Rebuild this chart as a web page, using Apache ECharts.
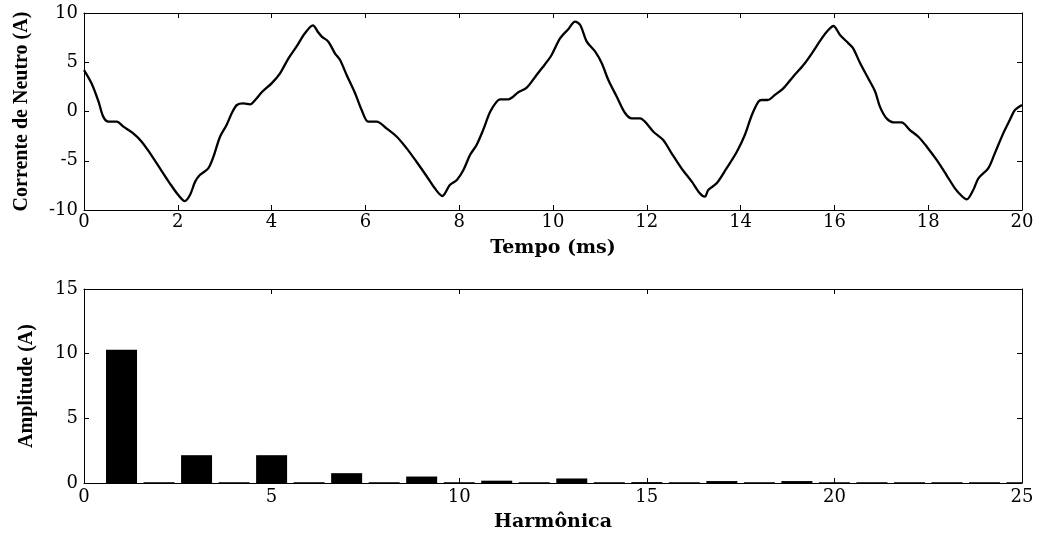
<!DOCTYPE html>
<html>
<head>
<meta charset="utf-8">
<script src="https://cdn.jsdelivr.net/npm/echarts@6/dist/echarts.min.js"></script>
<style>
html,body{margin:0;padding:0;background:#fff;}
#chart{width:1039px;height:533px;}
</style>
</head>
<body>
<div id="chart"></div>
<script>
// Top plot: neutral current waveform
const timeMs = [0.00,0.16,0.31,0.41,0.52,0.70,0.84,1.05,1.23,1.41,1.62,1.83,2.01,2.15,2.26,2.37,2.47,2.65,2.76,2.90,3.04,3.15,3.26,3.40,3.54,3.65,3.79,4.00,4.18,4.36,4.53,4.71,4.88,5.00,5.07,5.21,5.35,5.46,5.60,5.78,5.92,6.06,6.24,6.45,6.67,6.88,7.09,7.31,7.48,7.64,7.80,7.95,8.09,8.23,8.37,8.51,8.66,8.80,8.87,9.05,9.26,9.44,9.65,9.83,9.97,10.15,10.33,10.47,10.58,10.72,10.90,11.04,11.18,11.36,11.54,11.68,11.86,11.96,12.14,12.35,12.53,12.74,12.96,13.13,13.24,13.31,13.49,13.70,13.92,14.09,14.24,14.38,14.45,14.58,14.73,14.91,15.12,15.34,15.52,15.73,15.87,15.98,16.12,16.30,16.40,16.55,16.72,16.87,16.97,17.11,17.26,17.43,17.61,17.79,17.97,18.18,18.39,18.57,18.71,18.82,18.96,19.07,19.28,19.42,19.60,19.74,19.85,20.00];
const currentA = [4.2,2.86,1.0,-0.52,-1.03,-1.03,-1.54,-2.22,-3.06,-4.25,-5.77,-7.29,-8.48,-9.09,-8.48,-7.12,-6.45,-5.77,-4.59,-2.56,-1.37,-0.18,0.66,0.83,0.73,1.17,1.95,2.86,3.88,5.4,6.58,7.94,8.75,8.0,7.6,7.09,5.91,5.23,3.71,1.85,0.15,-1.03,-1.03,-1.71,-2.56,-3.74,-5.1,-6.6,-7.8,-8.58,-7.46,-6.95,-5.94,-4.42,-3.4,-1.88,-0.02,1.0,1.24,1.24,1.95,2.42,3.71,4.8,5.74,7.43,8.38,9.12,8.78,7.09,6.07,4.89,3.2,1.5,-0.18,-0.69,-0.69,-1.03,-2.05,-2.89,-4.25,-5.77,-7.12,-8.3,-8.65,-7.97,-7.29,-5.77,-4.08,-2.39,-0.36,1.0,1.17,1.17,1.68,2.35,3.54,4.72,5.91,7.43,8.27,8.68,7.77,6.92,6.41,4.89,3.37,2.01,0.49,-0.69,-1.1,-1.1,-1.88,-2.56,-3.57,-4.92,-6.45,-7.8,-8.55,-8.92,-7.97,-6.78,-5.77,-4.25,-2.22,-0.86,0.15,0.66];

// Bottom plot: harmonic spectrum
const harmonics = [1,2,3,4,5,6,7,8,9,10,11,12,13,14,15,16,17,18,19,20,21,22,23,24,25];
const amplitudeA = [10.3,0.06,2.15,0.06,2.15,0.06,0.76,0.06,0.5,0.06,0.18,0.06,0.35,0.06,0.07,0.06,0.15,0.06,0.15,0.06,0.06,0.06,0.06,0.06,0.06];

// Axis titles
const topXName = 'Tempo (ms)';
const topYName = 'Corrente de Neutro (A)';
const botXName = 'Harmônica';
const botYName = 'Amplitude (A)';

const chart = echarts.init(document.getElementById('chart'), null, {renderer:'canvas'});

const black = '#000';
const barHalfWidth = 0.413; // in harmonic units (MATLAB-like bar width)
const tickFont = {fontFamily:'DejaVu Serif', fontSize:18, color:black};
const xNameFont = {fontFamily:'DejaVu Serif', fontSize:19, fontWeight:'bold', color:black};
const yNameFont = {fontFamily:'Liberation Serif', fontSize:20, fontWeight:'bold', color:black};

function mainAxis(extra){
  return Object.assign({
    type:'value',
    axisLine:{show:true, onZero:false, lineStyle:{color:black, width:1}},
    axisTick:{show:true, inside:true, length:5, lineStyle:{color:black, width:1}},
    splitLine:{show:false},
    axisLabel:Object.assign({show:true}, tickFont)
  }, extra);
}
function mirrorAxis(extra){
  return Object.assign({
    type:'value',
    axisLine:{show:true, onZero:false, lineStyle:{color:black, width:1}},
    axisTick:{show:true, inside:true, length:5, lineStyle:{color:black, width:1}},
    splitLine:{show:false},
    axisLabel:{show:false}
  }, extra);
}

function renderBar(params, api){
  const h = api.value(0), a = api.value(1);
  const p0 = api.coord([h - barHalfWidth, 0]);
  const p1 = api.coord([h + barHalfWidth, a]);
  const cs = params.coordSys;
  const rect = echarts.graphic.clipRectByRect(
    {x:p0[0], y:p1[1], width:p1[0]-p0[0], height:p0[1]-p1[1]},
    {x:cs.x, y:cs.y, width:cs.width, height:cs.height}
  );
  if(!rect) return null;
  return {type:'rect', shape:rect, style:{fill:black}};
}

const option = {
  animation:false,
  backgroundColor:'#fff',
  grid:[
    {left:84, right:17, top:13, height:197},
    {left:84, right:17, top:289, height:197}
  ],
  xAxis:[
    mainAxis({gridIndex:0, position:'bottom', min:0, max:20, interval:2,
      axisLabel:Object.assign({margin:3}, tickFont),
      name:topXName, nameLocation:'middle', nameGap:29, nameTextStyle:xNameFont}),
    mirrorAxis({gridIndex:0, position:'top', min:0, max:20, interval:2}),
    mainAxis({gridIndex:1, position:'bottom', min:0, max:25, interval:5,
      axisLabel:Object.assign({margin:5}, tickFont),
      name:botXName, nameLocation:'middle', nameGap:30, nameTextStyle:xNameFont}),
    mirrorAxis({gridIndex:1, position:'top', min:0, max:25, interval:5})
  ],
  yAxis:[
    mainAxis({gridIndex:0, position:'left', min:-10, max:10, interval:5,
      axisLabel:Object.assign({margin:6}, tickFont),
      name:topYName, nameLocation:'middle', nameRotate:90, nameGap:52, nameTextStyle:yNameFont}),
    mirrorAxis({gridIndex:0, position:'right', min:-10, max:10, interval:5}),
    mainAxis({gridIndex:1, position:'left', min:0, max:15, interval:5,
      axisLabel:Object.assign({margin:6}, tickFont),
      name:botYName, nameLocation:'middle', nameRotate:90, nameGap:47, nameTextStyle:yNameFont}),
    mirrorAxis({gridIndex:1, position:'right', min:0, max:15, interval:5})
  ],
  series:[
    {
      type:'line', xAxisIndex:0, yAxisIndex:0,
      data: timeMs.map((t,i)=>[t, currentA[i]]),
      showSymbol:false, symbol:'none', smooth:0.3,
      lineStyle:{color:black, width:2.3},
      clip:true,
      z:3
    },
    {
      type:'custom', xAxisIndex:2, yAxisIndex:2,
      data: harmonics.map((h,i)=>[h, amplitudeA[i]]),
      renderItem: renderBar,
      encode:{x:0, y:1},
      z:3
    }
  ]
};
chart.setOption(option);
</script>
</body>
</html>
